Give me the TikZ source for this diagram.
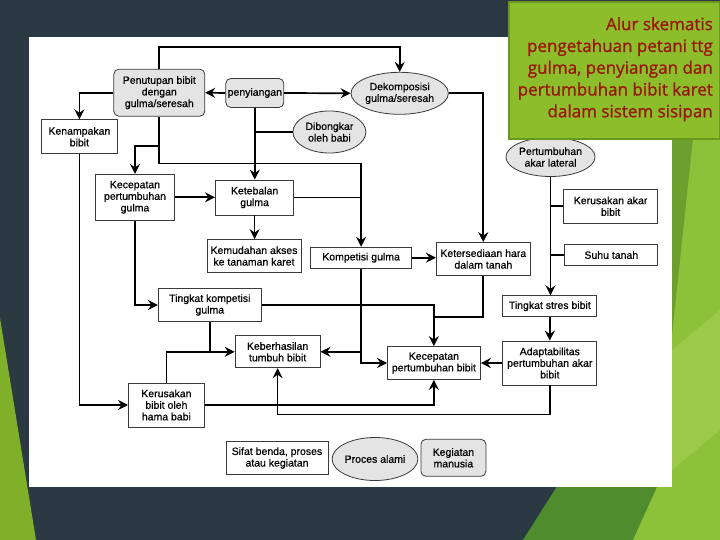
\documentclass[tikz,border=0pt]{standalone}
\usepackage{fontspec}
\usetikzlibrary{shapes.geometric,arrows.meta}
\newfontfamily\diag[FakeBold=0.6]{Liberation Sans}
\newfontfamily\titlef[FakeBold=1.2]{Open Sans}
\definecolor{bgdark}{HTML}{2B3A42}
\definecolor{lime}{HTML}{80B02A}
\definecolor{dkgreen}{HTML}{4E8C2D}
\definecolor{mdgreen}{HTML}{6C9F2E}
\definecolor{ltgreen}{HTML}{8EC13A}
\definecolor{ltgreen2}{HTML}{9CC94A}
\definecolor{titlefill}{HTML}{8CBE2B}
\definecolor{titledraw}{HTML}{6A981F}
\definecolor{titletext}{HTML}{9A1600}
\definecolor{boxline}{HTML}{3A3A3A}
\definecolor{gfill}{HTML}{E4E4E4}
\tikzset{
  box/.style={draw=boxline, fill=white, line width=0.8pt, inner sep=0pt, align=center,
    font=\diag\fontsize{10.5}{11.6}\selectfont},
  gbox/.style={box, fill=gfill, rounded corners=5pt},
  ell/.style={box, ellipse, fill=gfill},
  arr/.style={line width=1.7pt, -{Stealth[length=10pt,width=10pt,inset=3.5pt]}},
  ln/.style={line width=1.7pt},
}
\begin{document}
\begin{tikzpicture}[x=1pt,y=-1pt]
\useasboundingbox (0,0) rectangle (720,540);
% background
\fill[bgdark] (0,0) rectangle (720,540);
\fill[lime] (0,318) -- (36,540) -- (0,540) -- cycle;
\fill[dkgreen] (523,540) -- (580,450) -- (720,450) -- (720,540) -- cycle;
\fill[ltgreen] (633,540) -- (672,454) -- (672,138) -- (720,138) -- (720,540) -- cycle;
\fill[ltgreen2] (672,350) -- (720,310) -- (720,430) -- (672,470) -- cycle;
\fill[mdgreen] (672,138) -- (693,138) -- (672,335) -- cycle;
\fill[white] (29,37) rectangle (672,487);

% nodes
\node[gbox, minimum width=91pt, minimum height=47pt] (pen) at (159.3,92.7) {Penutupan bibit\\dengan\\gulma/seresah};
\node[gbox, minimum width=58pt, minimum height=29pt] (pny) at (254.8,93) {penyiangan};
\node[ell, minimum width=80pt, minimum height=42pt] (dek) at (399.7,93.3) {Dekomposisi\\gulma/seresah};
\node[ell, minimum width=73pt, minimum height=42pt] (dib) at (329.4,132) {Dibongkar\\oleh babi};
\node[box, minimum width=76pt, minimum height=34pt] (ken) at (79.4,136.7) {Kenampakan\\bibit};
\node[box, minimum width=79pt, minimum height=46pt] (kpg) at (135,197.3) {Kecepatan\\pertumbuhan\\gulma};
\node[box, minimum width=78.5pt, minimum height=35pt] (ket) at (254.6,197.5) {Ketebalan\\gulma};
\node[box, minimum width=94pt, minimum height=33pt] (kem) at (254,256) {Kemudahan akses\\ke tanaman karet};
\node[box, minimum width=101pt, minimum height=21pt] (kom) at (361.1,257.7) {Kompetisi gulma};
\node[box, minimum width=94pt, minimum height=33pt] (ked) at (483.3,259) {Ketersediaan hara\\dalam tanah};
\node[ell, minimum width=73pt, minimum height=39pt] (pal) at (550.5,157) {Pertumbuhan\\akar lateral};
\node[box, minimum width=94pt, minimum height=34pt] (kab) at (610.6,206.2) {Kerusakan akar\\bibit};
\node[box, minimum width=93pt, minimum height=21pt] (suh) at (611.3,255) {Suhu tanah};
\node[box, minimum width=94pt, minimum height=21pt] (tsb) at (549.8,306.2) {Tingkat stres bibit};
\node[box, minimum width=94pt, minimum height=44pt] (ada) at (549.8,363) {Adaptabilitas\\pertumbuhan akar\\bibit};
\node[box, minimum width=103pt, minimum height=33pt] (tkg) at (209.8,305) {Tingkat kompetisi\\gulma};
\node[box, minimum width=85pt, minimum height=32pt] (keb) at (277.6,351.8) {Keberhasilan\\tumbuh bibit};
\node[box, minimum width=93pt, minimum height=33pt] (kpb) at (433.9,363) {Kecepatan\\pertumbuhan bibit};
\node[box, minimum width=76pt, minimum height=44pt] (khb) at (166.4,405) {Kerusakan\\bibit oleh\\hama babi};
\node[box, minimum width=102pt, minimum height=33pt] (lg1) at (277,458) {Sifat benda, proses\\atau kegiatan};
\node[ell, minimum width=72pt, minimum height=43pt] (lg2) at (375,459) {Proces alami};
\node[gbox, minimum width=65pt, minimum height=37pt] (lg3) at (453.4,457.8) {Kegiatan\\manusia};

% connectors
\draw[arr] (pen.north) -- (pen.north |- 0,47) -| (dek.north);
\draw[arr] (pny.west) -- (pen.east);
\draw[arr] (pny.east) -- (dek.west);
\draw[arr] (pen.west) -| (ken.north);
\draw[arr] (pny.south) -- (pny.south |- ket.north);
\draw[ln] (dib.west) -- (dib.west -| pny.south);
\coordinate (c1) at (pen.south |- 0,163.6);
\coordinate (j1) at (pen.south |- 0,145.7);
\draw[arr] (pen.south) -- (c1) -| (kom.north);
\draw[arr] (j1) -| (kpg.north);
\draw[arr] (kpg.east) -- (kpg.east -| ket.west);
\draw[ln] (ket.east) -- (ket.east -| kom.north);
\draw[arr] (ket.south) -- (ket.south |- kem.north);
\draw[arr] (dek.east) -| (ked.north);
\draw[arr] (kom.east) -- (kom.east -| ked.west);
\draw[arr] (pal.south) -- (pal.south |- tsb.north);
\draw[ln] (kab.west) -- (kab.west -| pal.south);
\draw[ln] (suh.west) -- (suh.west -| pal.south);
\draw[arr] (tsb.south) -- (ada.north);
\draw[arr] (ada.west) -- (kpb.east);
\draw[arr] (ada.south) -- (ada.south |- 0,414.6) -| (keb.south);
\draw[arr] (kpg.south) |- (tkg.west);
\draw[arr] (tkg.east) -| (kpb.north);
\draw[ln] (ked.south) |- (kpb.north |- 0,317.1);
\draw[arr] (kom.south) |- (kpb.west);
\draw[arr] (kom.south |- keb.east) -- (keb.east);
\draw[arr] (tkg.south) |- (keb.west);
\draw[ln] (khb.north) |- (tkg.south |- keb.west);
\draw[arr] (ken.south) |- (khb.west);
\draw[arr] (khb.east) -| (kpb.south);

% title box
\node[draw=titledraw, fill=titlefill, line width=2pt, minimum width=211pt, minimum height=137pt, anchor=north west, inner sep=0pt] (tbox) at (508,1) {};
\node[anchor=north east, align=right, inner sep=0pt, text=titletext,
  font=\titlef\fontsize{17}{21.8}\selectfont] (ttl) at (713,17)
  {Alur skematis\\pengetahuan petani ttg\\gulma, penyiangan dan\\pertumbuhan bibit karet\\dalam sistem sisipan};
\end{tikzpicture}
\end{document}
